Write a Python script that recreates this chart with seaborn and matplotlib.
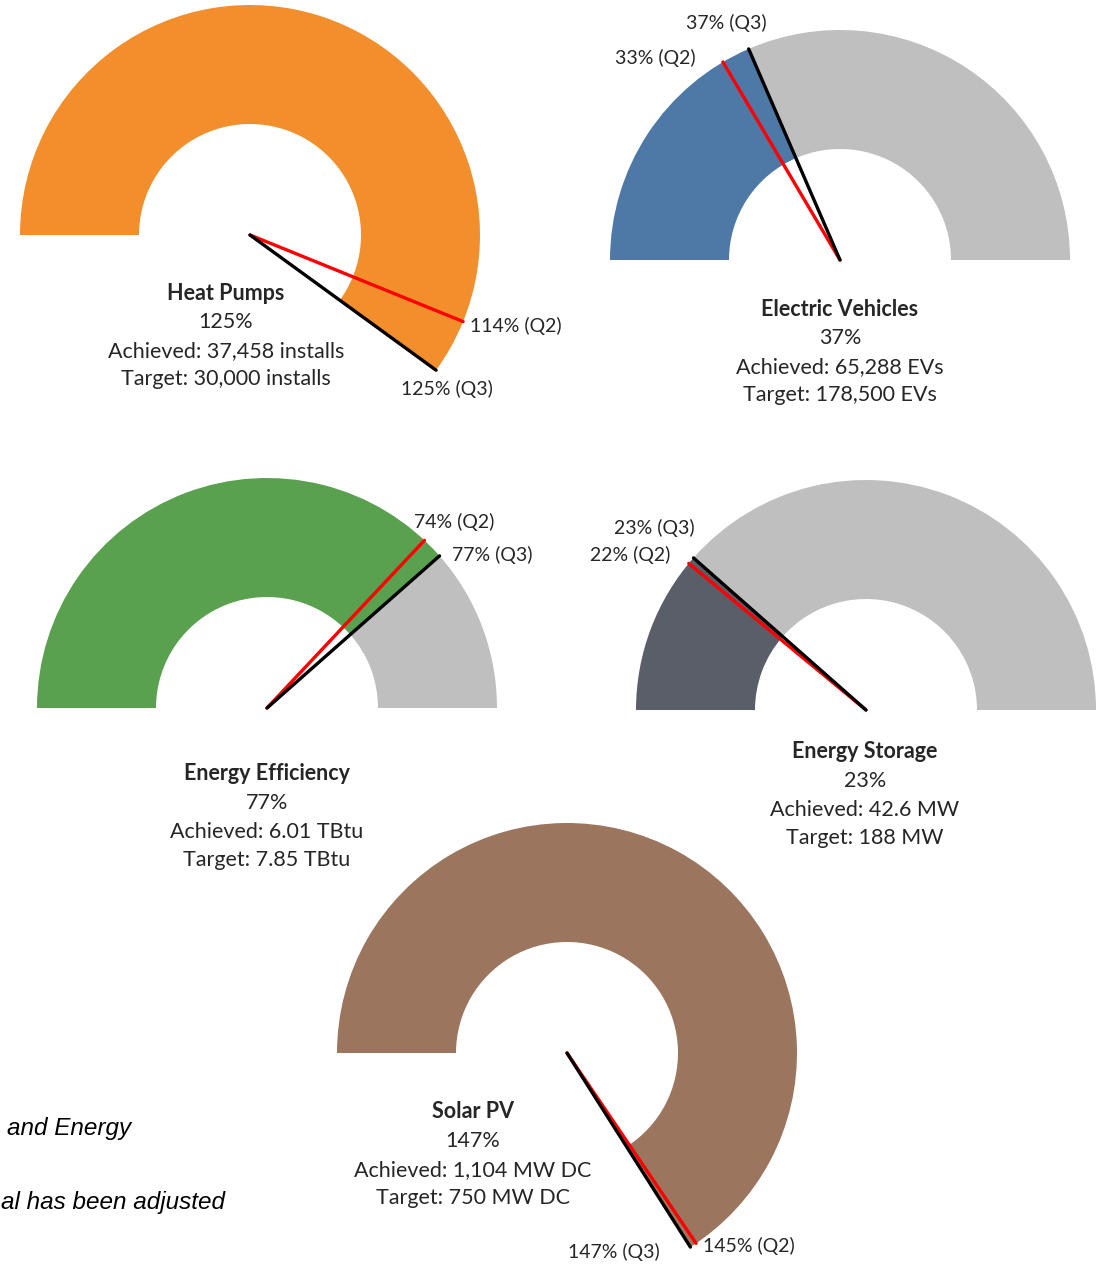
import matplotlib
matplotlib.use("Agg")
import numpy as np
import matplotlib.pyplot as plt
from matplotlib.patches import Wedge
import seaborn as sns

# --- data -------------------------------------------------------------
names = ["Heat Pumps", "Electric Vehicles", "Energy Efficiency", "Energy Storage", "Solar PV"]
pct_q3 = [125, 37, 77, 23, 147]
pct_q2 = [114, 33, 74, 22, 145]
achieved = ["37,458 installs", "65,288 EVs", "6.01 TBtu", "42.6 MW", "1,104 MW DC"]
targets = ["30,000 installs", "178,500 EVs", "7.85 TBtu", "188 MW", "750 MW DC"]
fill_colors = ["#F28E2B", "#4E79A7", "#59A14F", "#5A5E68", "#9C755F"]
rest_color = "#BFBFBF"

# footnote fragments visible at the left edge
notes = ["and Energy", "al has been adjusted"]

# --- layout (pixel coords, y measured from top) -----------------------
W, H = 1100, 1264
centers = [(250, 235), (840, 260), (267, 708), (866, 710), (567, 1053)]
R_OUT, R_IN = 230, 111
text_pos = [(226, 293), (840, 309), (267, 774), (865, 752), (473, 1112)]
line_gap = 28.8
# needle label anchors: (x, y, ha)
q2_pos = [(470, 326, "left"), (655, 58, "center"), (454, 522, "center"),
          (630, 555, "center"), (703, 1246, "left")]
q3_pos = [(447, 389, "center"), (726, 23, "center"), (492, 555, "center"),
          (654, 528, "center"), (614, 1252, "center")]
note_pos = [(7, 1128), (1, 1202)]


def gauge_angle(pct):
    v = pct / 100.0
    if v <= 1:
        return 180 - 180 * v
    return 180 / v - 180


def fy(y):
    return H - y


sns.set_theme(style="white")
plt.rcParams['font.family'] = ['Lato', 'DejaVu Sans']

fig = plt.figure(figsize=(W / 100, H / 100), dpi=100)
ax = fig.add_axes([0, 0, 1, 1])
ax.set_xlim(0, W)
ax.set_ylim(0, H)
ax.axis("off")

FS = 15.5
TXT = "#262626"

for i, name in enumerate(names):
    cx, cy = centers[i][0], fy(centers[i][1])
    a3 = gauge_angle(pct_q3[i])
    a2 = gauge_angle(pct_q2[i])

    ax.add_patch(Wedge((cx, cy), R_OUT, a3, 180, width=R_OUT - R_IN,
                       facecolor=fill_colors[i], edgecolor="none"))
    if a3 > 0:
        ax.add_patch(Wedge((cx, cy), R_OUT, 0, a3, width=R_OUT - R_IN,
                           facecolor=rest_color, edgecolor="none"))

    for ang, col in [(a2, "red"), (a3, "black")]:
        t = np.deg2rad(ang)
        ax.plot([cx, cx + R_OUT * np.cos(t)], [cy, cy + R_OUT * np.sin(t)],
                color=col, lw=2.4, solid_capstyle="round", zorder=3)

    tx, ty = text_pos[i]
    lines = [name, f"{pct_q3[i]}%", f"Achieved: {achieved[i]}", f"Target: {targets[i]}"]
    for k, s in enumerate(lines):
        ax.text(tx, fy(ty + k * line_gap), s, ha="center", va="center",
                fontsize=FS, color=TXT, fontweight="bold" if k == 0 else "normal")

    x2, y2, h2 = q2_pos[i]
    ax.text(x2, fy(y2), f"{pct_q2[i]}% (Q2)", ha=h2, va="center", fontsize=14, color=TXT)
    x3, y3, h3 = q3_pos[i]
    ax.text(x3, fy(y3), f"{pct_q3[i]}% (Q3)", ha=h3, va="center", fontsize=14, color=TXT)

for s, (nx, ny) in zip(notes, note_pos):
    ax.text(nx, fy(ny), s, ha="left", va="center", fontsize=17.5, style="italic",
            color="black", family=["Liberation Sans", "DejaVu Sans"])

fig.savefig("out.png", dpi=100, facecolor="white")
